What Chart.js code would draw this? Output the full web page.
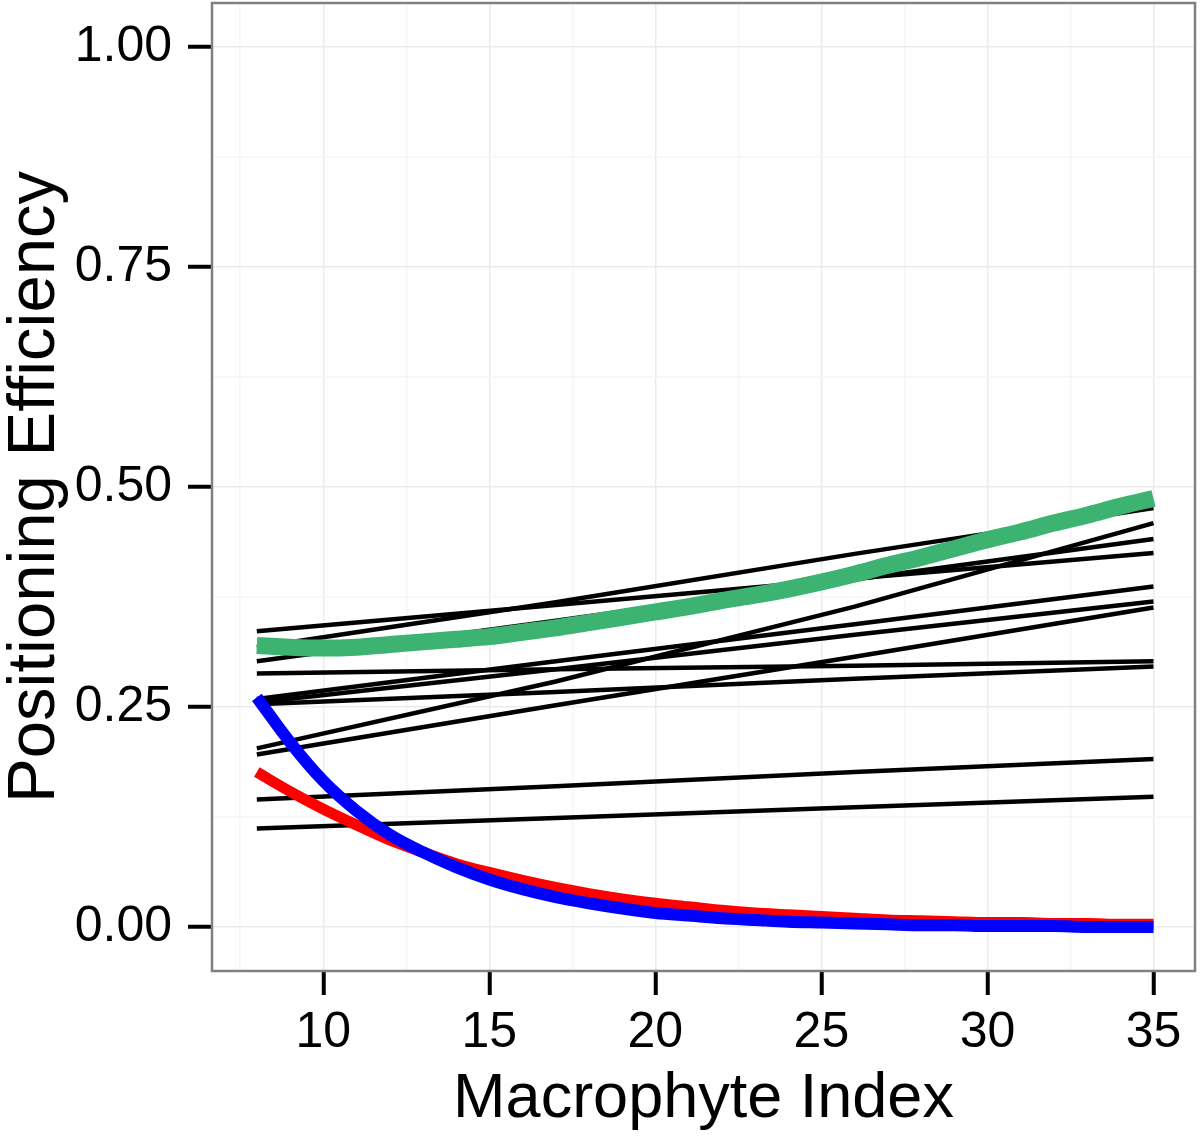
<!DOCTYPE html>
<html>
<head>
<meta charset="utf-8">
<script src="https://cdn.jsdelivr.net/npm/chart.js@4/dist/chart.umd.min.js"></script>
<style>
  html, body { margin: 0; padding: 0; background: #ffffff; }
  #c { display: block; }
</style>
</head>
<body>
<canvas id="c" width="1200" height="1137" style="width:1200px;height:1137px"></canvas>
<script>
// ---- data ----
const curveX = [8, 9, 10, 11, 12, 13, 14, 15, 16, 17, 18, 19, 20, 21, 22, 23, 24, 25, 26, 27, 28, 29, 30, 31, 32, 33, 34, 35];
const greenY = [0.320, 0.318, 0.317, 0.318, 0.321, 0.324, 0.327, 0.330, 0.335, 0.340, 0.346, 0.352, 0.358, 0.364, 0.371, 0.377, 0.384, 0.392, 0.401, 0.411, 0.420, 0.430, 0.440, 0.449, 0.459, 0.468, 0.478, 0.487];
const redY   = [0.176, 0.154, 0.134, 0.116, 0.099, 0.085, 0.072, 0.062, 0.053, 0.045, 0.038, 0.032, 0.027, 0.023, 0.019, 0.016, 0.014, 0.012, 0.010, 0.008, 0.007, 0.006, 0.005, 0.005, 0.004, 0.004, 0.003, 0.003];
const blueY  = [0.261, 0.210, 0.166, 0.132, 0.105, 0.085, 0.068, 0.054, 0.043, 0.034, 0.027, 0.021, 0.016, 0.013, 0.010, 0.008, 0.006, 0.005, 0.004, 0.003, 0.002, 0.002, 0.001, 0.001, 0.001, 0.000, 0.000, 0.000];

const lineX = [8, 17, 26, 35];
const blackP  = [0.318, 0.369, 0.424, 0.476];
const blackA  = [0.336, 0.366, 0.396, 0.425];
const blackB  = [0.302, 0.348, 0.395, 0.441];
const blackE  = [0.203, 0.279, 0.364, 0.459];
const blackF  = [0.196, 0.252, 0.307, 0.363];
const blackD1 = [0.259, 0.302, 0.344, 0.387];
const blackD2 = [0.255, 0.293, 0.332, 0.370];
const blackC  = [0.288, 0.293, 0.297, 0.302];
const blackD3 = [0.253, 0.267, 0.282, 0.296];
const blackG  = [0.145, 0.160, 0.176, 0.191];
const blackH  = [0.112, 0.124, 0.136, 0.148];
const blackLines = [blackP, blackA, blackB, blackE, blackF, blackD1, blackD2, blackC, blackD3, blackG, blackH];

const xTicks = [7.5, 10, 12.5, 15, 17.5, 20, 22.5, 25, 27.5, 30, 32.5, 35];
const xMajor = [10, 15, 20, 25, 30, 35];
const yTicks = [0, 0.125, 0.25, 0.375, 0.5, 0.625, 0.75, 0.875, 1.0];
const yMajor = [0, 0.25, 0.5, 0.75, 1.0];

// ---- build datasets ----
const pts = (xs, ys) => xs.map((x, i) => ({ x: x, y: ys[i] }));
const datasets = [];
datasets.push({ data: pts(curveX, greenY), borderColor: '#3cb371', borderWidth: 17, order: 0, cubicInterpolationMode: 'monotone' });
datasets.push({ data: pts(curveX, blueY), borderColor: '#0000ff', borderWidth: 12, order: 1, cubicInterpolationMode: 'monotone' });
datasets.push({ data: pts(curveX, redY), borderColor: '#ff0000', borderWidth: 11, order: 2, cubicInterpolationMode: 'monotone' });
blackLines.forEach((ys, k) => {
  datasets.push({ data: pts(lineX, ys), borderColor: '#000000', borderWidth: 4.5, order: 3 + k, tension: 0 });
});
datasets.forEach(d => { d.pointRadius = 0; d.borderCapStyle = 'butt'; d.fill = false; });

const isMaj = (arr, v) => arr.some(m => Math.abs(m - v) < 1e-6);
const FONT = '"Liberation Sans", Arial, Helvetica, sans-serif';

const panelBorder = {
  id: 'panelBorder',
  afterDatasetsDraw(chart) {
    const { ctx, chartArea: a } = chart;
    ctx.save();
    ctx.strokeStyle = '#808080';
    ctx.lineWidth = 2.5;
    ctx.strokeRect(a.left, a.top, a.right - a.left, a.bottom - a.top);
    ctx.restore();
  }
};

new Chart(document.getElementById('c'), {
  type: 'line',
  data: { datasets: datasets },
  options: {
    responsive: false,
    animation: false,
    devicePixelRatio: 1,
    layout: { padding: { top: 3, right: 5, left: 0, bottom: 0 } },
    plugins: { legend: { display: false }, tooltip: { enabled: false } },
    scales: {
      x: {
        type: 'linear',
        min: 6.65,
        max: 36.25,
        afterBuildTicks: s => { s.ticks = xTicks.map(v => ({ value: v })); },
        afterFit: s => { s.height = 166; s.paddingLeft = 0; s.paddingRight = 0; },
        border: { display: false },
        grid: {
          color: c => isMaj(xMajor, c.tick.value) ? '#ebebeb' : '#f6f6f6',
          lineWidth: 1.5,
          tickColor: c => isMaj(xMajor, c.tick.value) ? '#000000' : 'rgba(0,0,0,0)',
          tickWidth: 4,
          tickLength: 24
        },
        ticks: {
          autoSkip: false, maxRotation: 0,
          color: '#000000',
          padding: 8,
          font: { family: FONT, size: 50 },
          callback: v => isMaj(xMajor, v) ? String(v) : ''
        },
        title: {
          display: true, text: 'Macrophyte Index', color: '#000000',
          font: { family: FONT, size: 63, lineHeight: 1 },
          padding: { top: 6, bottom: 6 }
        }
      },
      y: {
        type: 'linear',
        min: -0.05,
        max: 1.05,
        afterBuildTicks: s => { s.ticks = yTicks.map(v => ({ value: v })); },
        afterFit: s => { s.width = 212; s.paddingTop = 0; s.paddingBottom = 0; },
        border: { display: false },
        grid: {
          color: c => isMaj(yMajor, c.tick.value) ? '#ebebeb' : '#f6f6f6',
          lineWidth: 1.5,
          tickColor: c => isMaj(yMajor, c.tick.value) ? '#000000' : 'rgba(0,0,0,0)',
          tickWidth: 4,
          tickLength: 24
        },
        ticks: {
          autoSkip: false,
          color: '#000000',
          padding: 16,
          font: { family: FONT, size: 50 },
          callback: v => isMaj(yMajor, v) ? v.toFixed(2) : ''
        },
        title: {
          display: true, text: 'Positioning Efficiency', color: '#000000',
          font: { family: FONT, size: 67, lineHeight: 1 },
          padding: { top: 2, bottom: 2 }
        }
      }
    }
  },
  plugins: [panelBorder]
});
</script>
</body>
</html>
